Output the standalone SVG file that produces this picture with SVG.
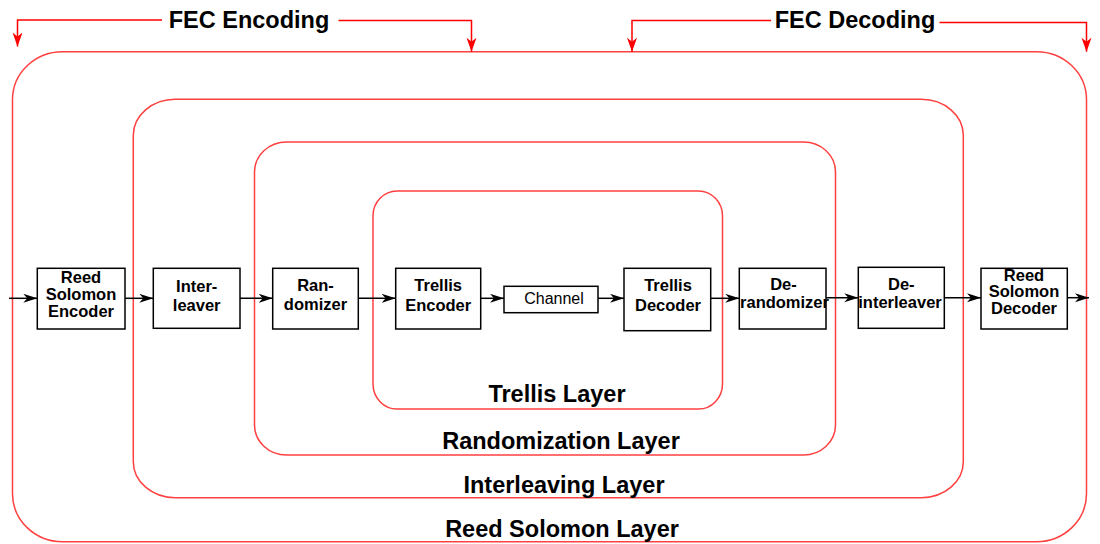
<svg xmlns="http://www.w3.org/2000/svg" width="1100" height="544" viewBox="0 0 1100 544">
<style>
.layer{fill:none;stroke:#ff4040;stroke-width:1.5}
.bracket{fill:none;stroke:#ff0000;stroke-width:1.5}
.box{fill:#fff;stroke:#000;stroke-width:1.5}
.conn{fill:none;stroke:#000;stroke-width:1.5}
.bt{font-family:"Liberation Sans",Arial,sans-serif;font-weight:bold;font-size:16.5px;fill:#000;text-anchor:middle}
.ch{font-family:"Liberation Sans",Arial,sans-serif;font-size:16px;fill:#000;text-anchor:middle}
.lt{font-family:"Liberation Sans",Arial,sans-serif;font-weight:bold;font-size:23.5px;fill:#000;text-anchor:middle}
</style>
<defs>
<marker id="ab" markerUnits="userSpaceOnUse" markerWidth="15" markerHeight="10" refX="14" refY="4.5" orient="auto">
<path d="M0,0 L14,4.5 L0,9 L4,4.5 z" fill="#000"/>
</marker>
<marker id="ar" markerUnits="userSpaceOnUse" markerWidth="15" markerHeight="11" refX="14" refY="5" orient="auto">
<path d="M0,0 L14,5 L0,10 L4,5 z" fill="#ff0000"/>
</marker>
</defs>
<g id="layers">
<g id="reed-solomon-layer">
<rect class="layer" x="12.5" y="51.7" width="1074" height="490" rx="50" ry="48"/>
<text class="lt" x="562" y="536.5">Reed Solomon Layer</text>
</g>
<g id="interleaving-layer">
<rect class="layer" x="133.3" y="99.3" width="830" height="398.4" rx="42" ry="36"/>
<text class="lt" x="564" y="492.5">Interleaving Layer</text>
</g>
<g id="randomization-layer">
<rect class="layer" x="254.5" y="142" width="581" height="313" rx="32" ry="30"/>
<text class="lt" x="561" y="449">Randomization Layer</text>
</g>
<g id="trellis-layer">
<rect class="layer" x="373" y="191" width="349.5" height="218" rx="24" ry="25"/>
<text class="lt" x="557" y="401.5">Trellis Layer</text>
</g>
</g>
<g id="fec">
<g id="fec-encoding">
<path class="bracket" d="M162,20 H17.5 V46.5" marker-end="url(#ar)"/>
<path class="bracket" d="M338.5,20.5 H471.5 V51.7" marker-end="url(#ar)"/>
<text class="lt" x="249" y="28">FEC Encoding</text>
</g>
<g id="fec-decoding">
<path class="bracket" d="M771,20.5 H632 V51.7" marker-end="url(#ar)"/>
<path class="bracket" d="M939.5,22.5 H1086.5 V51.7" marker-end="url(#ar)"/>
<text class="lt" x="855" y="28">FEC Decoding</text>
</g>
</g>
<g id="connectors">
<line class="conn" x1="9" y1="298.3" x2="37.3" y2="298.3" marker-end="url(#ab)"/>
<line class="conn" x1="125" y1="298.3" x2="153.3" y2="298.3" marker-end="url(#ab)"/>
<line class="conn" x1="240" y1="298.3" x2="272.7" y2="298.3" marker-end="url(#ab)"/>
<line class="conn" x1="358.3" y1="298.3" x2="395.7" y2="298.3" marker-end="url(#ab)"/>
<line class="conn" x1="480.7" y1="298.3" x2="504" y2="298.3" marker-end="url(#ab)"/>
<line class="conn" x1="598" y1="298.3" x2="624" y2="298.3" marker-end="url(#ab)"/>
<line class="conn" x1="710.7" y1="298.3" x2="739.3" y2="298.3" marker-end="url(#ab)"/>
<line class="conn" x1="826" y1="297.7" x2="858.3" y2="297.7" marker-end="url(#ab)"/>
<line class="conn" x1="944.3" y1="297.7" x2="981" y2="297.7" marker-end="url(#ab)"/>
<line class="conn" x1="1067.3" y1="297.7" x2="1089" y2="297.7" marker-end="url(#ab)"/>
</g>
<g id="rs-encoder">
<rect class="box" x="37.3" y="268.3" width="87.7" height="60.7"/>
<text class="bt" x="81" y="283.3">Reed</text>
<text class="bt" x="81" y="300">Solomon</text>
<text class="bt" x="81" y="316.7">Encoder</text>
</g>
<g id="interleaver">
<rect class="box" x="153.3" y="268.3" width="86.7" height="60"/>
<text class="bt" x="196.7" y="291.5">Inter-</text>
<text class="bt" x="196.7" y="310.5">leaver</text>
</g>
<g id="randomizer">
<rect class="box" x="272.7" y="268.3" width="85.6" height="60.7"/>
<text class="bt" x="315.5" y="291">Ran-</text>
<text class="bt" x="315.5" y="310">domizer</text>
</g>
<g id="trellis-encoder">
<rect class="box" x="395.7" y="268.3" width="85" height="60.7"/>
<text class="bt" x="438.2" y="290.7">Trellis</text>
<text class="bt" x="438.2" y="310.7">Encoder</text>
</g>
<g id="channel">
<rect class="box" x="504" y="286.3" width="94" height="26.4"/>
<text class="ch" x="554" y="303.5">Channel</text>
</g>
<g id="trellis-decoder">
<rect class="box" x="624" y="268.3" width="86.7" height="62.4"/>
<text class="bt" x="668" y="290.7">Trellis</text>
<text class="bt" x="668" y="310.7">Decoder</text>
</g>
<g id="derandomizer">
<rect class="box" x="739.3" y="268.3" width="86.7" height="60.7"/>
<text class="bt" x="783.5" y="290">De-</text>
<text class="bt" x="784.5" y="308.3">randomizer</text>
</g>
<g id="deinterleaver">
<rect class="box" x="858.3" y="267.3" width="86" height="61"/>
<text class="bt" x="901.3" y="290">De-</text>
<text class="bt" x="900" y="308.3">interleaver</text>
</g>
<g id="rs-decoder">
<rect class="box" x="981" y="268.3" width="86.3" height="60.7"/>
<text class="bt" x="1024" y="281">Reed</text>
<text class="bt" x="1024" y="297.3">Solomon</text>
<text class="bt" x="1024" y="314">Decoder</text>
</g>
</svg>
